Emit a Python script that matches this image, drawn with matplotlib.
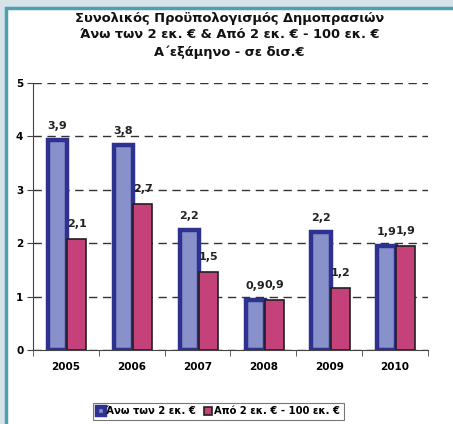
import numpy as np
import matplotlib.pyplot as plt
from matplotlib.patches import Rectangle

plt.rcParams['font.family'] = ['DejaVu Sans']
plt.rcParams['font.weight'] = 'bold'

years = ['2005', '2006', '2007', '2008', '2009', '2010']
above_2m = [3.93, 3.84, 2.24, 0.93, 2.21, 1.94]
from_2m_to_100m = [2.08, 2.74, 1.46, 0.94, 1.16, 1.94]
names = ['Άνω των 2 εκ. €', 'Από 2 εκ. € - 100 εκ. €']
title = 'Συνολικός Προϋπολογισμός Δημοπρασιών\nΆνω των 2 εκ. € & Από 2 εκ. € - 100 εκ. €\nΑ΄εξάμηνο - σε δισ.€'

fig = plt.figure(figsize=(4.53, 4.24), dpi=100)
fig.patch.set_facecolor('#D5E3E9')
# white panel with teal border on left/top
fig.patches.append(Rectangle((5.5 / 453, -0.05), 1.1, 1 - 7.5 / 424 + 0.05,
                             transform=fig.transFigure, facecolor='white',
                             edgecolor='#4E9FB1', linewidth=2.5, zorder=-1))

ax = fig.add_axes([33 / 453, 1 - 350 / 424, 395 / 453, 267 / 424])
ax.set_facecolor('none')

x = np.arange(len(years))
w = 0.29
off1, off2 = -0.125, 0.165
b1 = ax.bar(x + off1, above_2m, w, color='#8891C9', edgecolor='#2E3190',
            linewidth=3.2, zorder=3, label=names[0])
b2 = ax.bar(x + off2, from_2m_to_100m, w, color='#C4417A', edgecolor='#231F20',
            linewidth=1.2, zorder=3, label=names[1])

for xi, v in zip(x, above_2m):
    ax.text(xi + off1, v + 0.17, f'{v:.1f}'.replace('.', ','), ha='center',
            va='bottom', fontsize=8, fontweight='bold', color='#222222')
for xi, v in zip(x, from_2m_to_100m):
    ax.text(xi + off2, v + 0.19, f'{v:.1f}'.replace('.', ','), ha='center',
            va='bottom', fontsize=8, fontweight='bold', color='#222222')

ax.set_xlim(-0.5, len(years) - 0.5)
ax.set_ylim(0, 5)
ax.set_yticks(range(6))
ax.set_yticklabels([str(i) for i in range(6)], fontsize=7.5, fontweight='bold')
ax.set_xticks(x)
ax.set_xticklabels(years, fontsize=7.5, fontweight='bold')
ax.set_xticks(np.arange(-0.5, len(years), 1), minor=True)
ax.tick_params(axis='x', which='major', length=0, pad=9)
ax.tick_params(axis='x', which='minor', length=4, direction='out', color='#444444')
ax.tick_params(axis='y', length=4, color='#444444', pad=3)
ax.yaxis.grid(True, linestyle=(0, (6, 4)), color='#333333', linewidth=1.0, zorder=1)
for s in ['top', 'right']:
    ax.spines[s].set_visible(False)
ax.spines['left'].set_color('#444444')
ax.spines['bottom'].set_color('#444444')

fig.text(0.507, 1 - 12 / 424, title, ha='center', va='top', fontsize=9.4,
         fontweight='bold', linespacing=1.35, color='#111111')

leg = fig.legend(loc='lower left', bbox_to_anchor=(93 / 453, 4 / 424), ncol=2,
                 fontsize=7.2, frameon=True, fancybox=False, handlelength=0.8,
                 handleheight=0.8, handletextpad=0.2, columnspacing=0.8,
                 borderpad=0.35, borderaxespad=0)
leg.get_frame().set_edgecolor('#555555')
leg.get_frame().set_linewidth(0.8)

fig.savefig('out.png', dpi=100, facecolor=fig.get_facecolor())
